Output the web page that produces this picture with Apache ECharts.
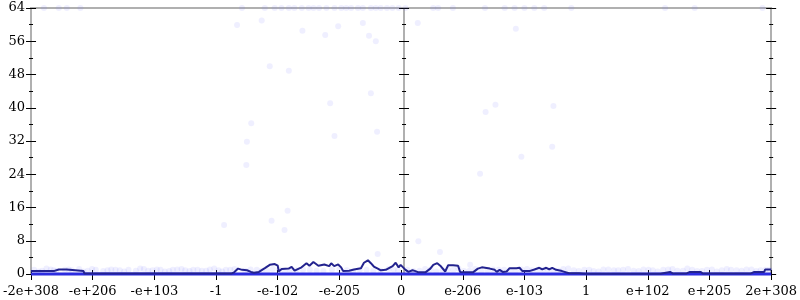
<!DOCTYPE html>
<html><head><meta charset="utf-8">
<script src="https://cdn.jsdelivr.net/npm/echarts@6/dist/echarts.min.js"></script>
<style>html,body{margin:0;padding:0;background:#fff}#c{width:800px;height:300px}</style>
</head><body><div id="c"></div>
<script>
const tickLabels = ['-2e+308','-e+206','-e+103','-1','-e-102','-e-205','0','e-206','e-103','1','e+102','e+205','2e+308'];
const yTicks = [0,8,16,24,32,40,48,56,64];

// dark line: position along axis (0..12) and count
const lineX = [0,0.289,0.321,0.369,0.450,0.578,0.610,0.851,0.867,3.245,3.293,3.357,3.422,3.454,3.502,3.566,3.614,3.695,3.791,3.871,3.952,4.0,4.016,4.064,4.177,4.225,4.273,4.386,4.466,4.514,4.578,4.659,4.755,4.835,4.867,4.916,4.980,5.028,5.060,5.157,5.237,5.349,5.398,5.462,5.510,5.558,5.622,5.671,5.751,5.863,5.912,5.960,5.992,6.072,6.120,6.185,6.233,6.281,6.394,6.474,6.522,6.586,6.635,6.715,6.763,6.843,6.924,6.956,7.165,7.245,7.309,7.438,7.518,7.550,7.598,7.647,7.711,7.759,7.871,7.920,7.968,8.080,8.161,8.241,8.289,8.353,8.402,8.450,8.514,8.610,8.723,8.884,8.996,10.201,10.217,10.361,10.410,10.618,10.683,10.859,10.892,11.663,11.727,11.888,11.904,12];
const lineY = [0.7,0.7,1.0,0.7,1.1,1.1,0.7,0.7,0.1,0.1,0.4,1.3,1.0,1.4,0.9,0.5,0.3,0.5,1.4,2.2,2.4,2.0,0.6,1.2,1.3,1.7,0.8,1.6,2.6,2.0,2.9,2.0,2.3,1.9,2.6,1.9,2.3,1.6,0.7,0.8,1.1,1.4,2.7,3.3,2.6,1.8,1.3,0.9,1.0,1.9,2.7,1.6,2.2,1.0,0.5,0.9,0.7,0.4,0.4,1.3,2.2,2.6,2.0,0.6,2.1,2.1,2.0,0.5,0.4,1.3,1.6,1.3,1.0,0.5,1.0,0.5,0.6,1.4,1.4,1.5,0.7,0.7,1.1,1.5,1.1,1.5,1.1,1.5,1.0,0.7,0.2,0.2,0.05,0.05,0.5,0.5,0.1,0.1,0.5,0.5,0.1,0.1,0.5,0.5,1.1,1.1];

// zero line
const zeroX = [0,12];
const zeroY = [0,0];

// faint points
const dotX = [0.21,0.45,0.58,0.80,3.42,3.79,3.95,4.06,4.18,4.27,4.39,4.50,4.58,4.67,4.79,4.92,5.03,5.11,5.19,5.30,5.38,5.51,5.59,5.67,5.77,5.86,5.96,6.07,6.52,6.60,6.84,7.36,7.68,7.84,8.00,8.16,8.32,8.76,10.28,10.76,11.86,
  3.34,3.74,4.40,4.77,4.98,5.38,5.48,5.59,3.87,4.18,4.85,5.51,3.57,3.50,4.92,5.61,6.27,7.86,7.37,7.53,8.47,8.45,3.49,3.13,3.90,4.11,4.16,5.62,7.95,7.28,6.28,6.63,7.12,
  0.05,0.18,0.32,0.41,0.55,0.66,0.78,0.92,1.05,1.17,1.30,1.44,1.58,1.70,1.83,1.97,2.10,2.24,2.37,2.50,2.63,2.77,2.90,3.04,3.16,3.30,3.47,3.66,3.83,4.02,4.20,4.41,4.63,4.88,5.12,5.33,5.55,5.80,5.95,
  6.10,6.30,6.48,6.67,6.85,7.02,7.20,7.40,7.58,7.77,7.95,8.12,8.30,8.47,8.63,8.80,8.97,9.12,9.28,9.45,9.60,9.77,9.93,10.08,10.25,10.40,10.57,10.72,10.88,11.04,11.20,11.35,11.52,11.68,11.83,11.97,
  0.12,0.25,0.37,0.61,0.85,0.99,1.24,1.37,1.51,1.77,1.90,2.04,2.17,2.30,2.44,2.57,2.70,2.84,2.97,3.10,3.23,3.56,3.74,3.92,4.11,4.30,4.52,4.74,5.00,5.22,5.44,5.67,5.88,
  6.20,6.39,6.57,6.76,6.93,7.11,7.30,7.49,7.67,7.86,8.04,8.21,8.38,8.55,8.71,8.88,9.05,9.20,9.36,9.52,9.68,9.85,10.01,10.16,10.33,10.48,10.64,10.80,10.96,11.12,11.28,11.44,11.60,11.76,11.91];
const dotY = [64,64,64,64,64,64,64,64,64,64,64,64,64,64,64,64,64,64,64,64,64,64,64,64,64,64,64,64,64,64,64,64,64,64,64,64,64,64,64,64,64,
  59.9,61,58.5,57.5,59.6,60.4,57.3,56,50,48.9,41.1,43.5,36.3,31.8,33.2,34.2,60.4,59,39,40.7,40.4,30.6,26.2,11.8,12.8,10.6,15.2,4.8,28.2,24.1,7.9,5.3,2.2,
  1.0,0.8,1.1,0.7,1.0,0.9,1.2,0.8,1.0,0.7,1.1,0.9,1.0,0.8,1.2,0.9,1.0,0.7,1.1,0.9,1.0,0.8,1.1,0.9,1.0,1.2,0.8,1.0,0.7,1.1,0.9,1.0,0.8,1.1,0.9,1.0,0.8,1.2,0.9,
  1.0,0.8,1.1,0.9,1.0,0.7,1.2,0.9,1.0,0.8,1.1,0.9,1.0,0.8,1.2,0.9,1.0,0.7,1.1,0.9,1.0,0.8,1.1,0.9,1.0,1.2,0.8,1.0,0.7,1.1,0.9,1.0,0.8,1.1,0.9,1.0,
  0.6,1.3,0.9,1.1,0.6,1.2,0.9,1.0,0.6,1.3,0.8,1.1,0.6,1.0,1.2,0.7,1.0,0.8,1.3,0.6,1.0,1.1,0.7,1.2,0.6,0.9,1.0,0.7,1.2,0.6,1.0,0.8,1.1,
  0.7,1.2,0.6,1.0,1.3,0.8,0.6,1.1,1.0,0.7,1.2,0.6,1.0,0.8,1.3,0.7,1.0,0.6,1.1,0.9,1.2,0.7,1.0,0.6,1.1,0.8,1.3,0.7,1.0,0.6,1.2,0.9,1.1,0.7,1.0];

const zip = (a,b) => a.map((v,i)=>[v,b[i]]);
const FONT = 'DejaVu Serif';
const AXC = '#b0b0b0';

function yAx(pos, inside, labels, offset){
  return {type:'value', min:0, max:64, interval:8, position:pos, offset:offset||0,
    axisLine:{show:true, onZero:false, lineStyle:{color:AXC,width:2}},
    axisTick:{show:true, inside:inside, length:5, lineStyle:{color:'#000',width:1}},
    minorTick:{show:true, splitNumber:2, length:2, lineStyle:{color:'#000',width:1}},
    axisLabel:{show:labels, margin:6, fontFamily:FONT, fontSize:13, color:'#000'},
    splitLine:{show:false}, minorSplitLine:{show:false}};
}
function xAx(pos, inside, labels, ticks, len){
  return {type:'value', min:0, max:12, interval:1, position:pos,
    axisLine:{show:true, onZero:false, lineStyle:{color:AXC,width:2}},
    axisTick:{show:ticks, inside:inside, length:len, lineStyle:{color:'#000',width:1}},
    axisLabel:{show:labels, margin:11, fontFamily:FONT, fontSize:13, color:'#000',
      showMinLabel:true, showMaxLabel:true, hideOverlap:false,
      formatter:v=>tickLabels[Math.round(v)]},
    splitLine:{show:false}};
}

const chart = echarts.init(document.getElementById('c'), null, {renderer:'canvas'});
chart.setOption({
  animation:false,
  backgroundColor:'#fff',
  grid:{left:27, right:26, top:8, bottom:26, containLabel:false},
  xAxis:[xAx('bottom',false,true,true,6), xAx('bottom',true,false,true,4), xAx('top',false,false,false,0)],
  yAxis:[yAx('left',false,true), yAx('left',true,false), yAx('right',false,false), yAx('right',true,false),
         yAx('left',false,false,-373), yAx('left',true,false,-373)],
  series:[
    {type:'scatter', data:zip(dotX,dotY), symbolSize:6, clip:true,
      itemStyle:{color:'rgba(110,110,255,0.14)'}, silent:true},
    {type:'line', data:zip(zeroX,zeroY), showSymbol:false, clip:false,
      lineStyle:{color:'#2c2ce0', width:3}},
    {type:'line', data:zip(lineX,lineY), showSymbol:false, clip:false,
      lineStyle:{color:'#23238f', width:2}}
  ]
});
</script></body></html>
